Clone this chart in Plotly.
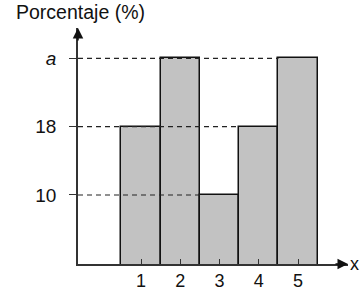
import plotly.graph_objects as go

# Data
categories = [1, 2, 3, 4, 5]
a_value = 26  # estimated position of level "a"
percentages = [18, a_value, 10, 18, a_value]
ytick_vals = [10, 18, a_value]
ytick_text = ["10", "18", "<i>a</i>"]
xtick_text = ["1", "2", "3", "4", "5"]

x_min, x_max = -0.605, 6.27
y_min, y_max = 1.92, 29.55

AX = "#333333"
FONT = "Arial, Liberation Sans, sans-serif"

fig = go.Figure()

fig.add_trace(go.Bar(
    x=categories, y=percentages, width=1,
    marker=dict(color="#c2c2c2", line=dict(color="#111111", width=1.5)),
    hoverinfo="skip",
))

# dashed guide lines from the y-axis to the last bar at each level
for v in ytick_vals:
    end = max(c for c, h in zip(categories, percentages) if h == v) - 0.5
    fig.add_trace(go.Scatter(
        x=[x_min, end], y=[v, v], mode="lines",
        line=dict(color="#222222", width=1.2, dash="5px,4px"),
        hoverinfo="skip",
    ))

# axis arrows
fig.add_annotation(x=x_min, y=y_max, xref="x", yref="y", ax=0, ay=14,
                   showarrow=True, arrowhead=2, arrowsize=1.4, arrowwidth=1.5,
                   arrowcolor="#111111", text="")
fig.add_annotation(x=x_max, y=y_min, xref="x", yref="y", ax=-14, ay=0,
                   showarrow=True, arrowhead=2, arrowsize=1.4, arrowwidth=1.5,
                   arrowcolor="#111111", text="")

# axis titles
fig.add_annotation(x=x_min, y=1, xref="x", yref="paper", yanchor="bottom",
                   xanchor="center", xshift=2, yshift=3, showarrow=False,
                   text="Porcentaje (%)", font=dict(size=19.5, color="#111111", family=FONT))
fig.add_annotation(x=x_max, y=y_min, xref="x", yref="y", xanchor="left",
                   yanchor="middle", xshift=0, showarrow=False,
                   text="x", font=dict(size=18, color="#111111", family=FONT))

fig.update_layout(
    width=363, height=290,
    margin=dict(l=78, r=15, t=28, b=26, autoexpand=False),
    paper_bgcolor="white", plot_bgcolor="white",
    showlegend=False, bargap=0,
    font=dict(family=FONT, size=19, color="#111111"),
)
fig.update_xaxes(
    range=[x_min, x_max], showgrid=False, zeroline=False, automargin=False,
    showline=True, linecolor=AX, linewidth=1.5,
    tickmode="array", tickvals=categories, ticktext=xtick_text,
    ticks="inside", ticklen=5, tickcolor=AX, tickwidth=1.2,
    tickfont=dict(size=18), ticklabelstandoff=0,
)
fig.update_yaxes(
    range=[y_min, y_max], showgrid=False, zeroline=False, automargin=False,
    showline=True, linecolor=AX, linewidth=1.5,
    tickmode="array", tickvals=ytick_vals, ticktext=ytick_text,
    ticks="outside", ticklen=7, tickcolor=AX, tickwidth=1.2,
    ticklabelstandoff=9,
)

fig.write_html(
    "out.html",
    config={"displayModeBar": False},
    post_script="document.body.style.margin='0';document.body.style.overflow='hidden';",
)
